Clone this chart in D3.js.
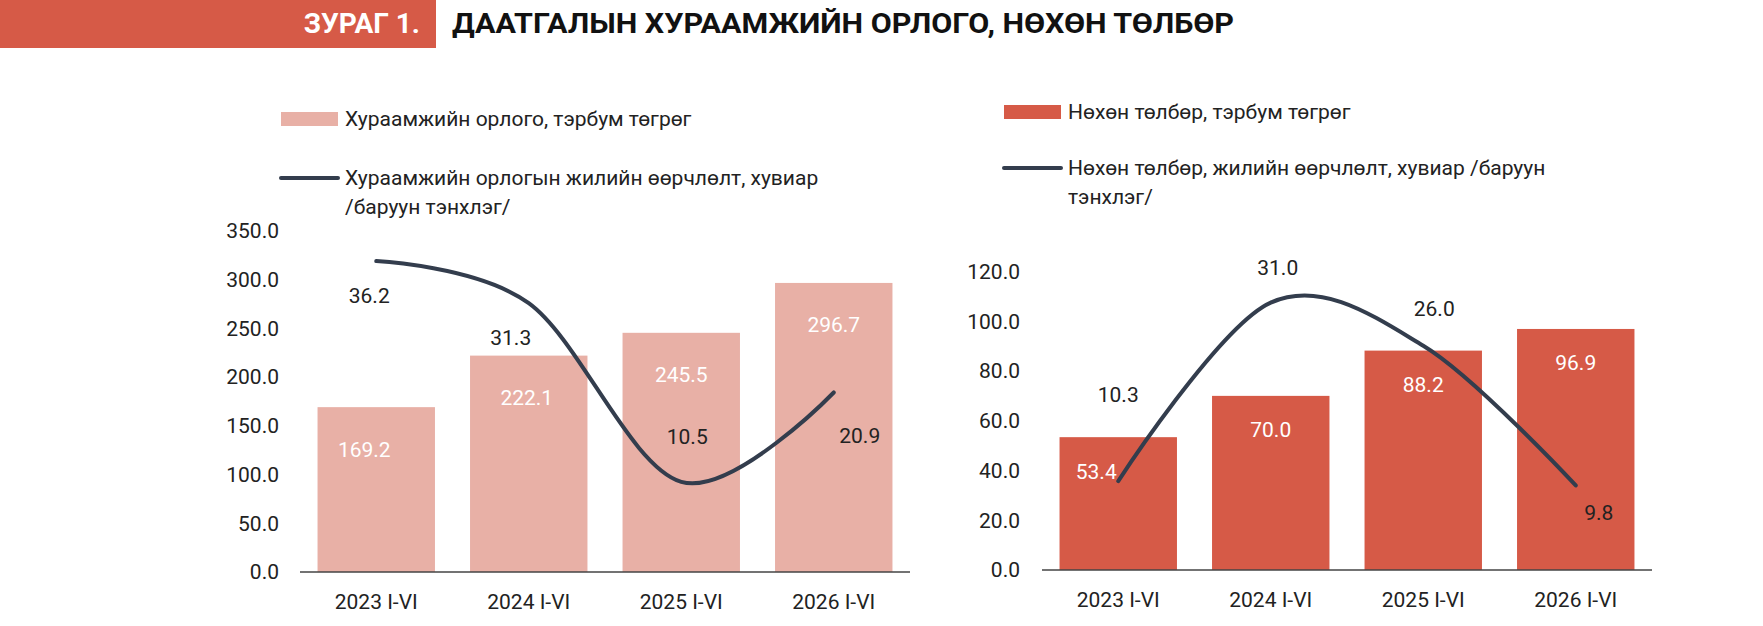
<!DOCTYPE html>
<html lang="mn">
<head>
<meta charset="UTF-8">
<script src="https://d3js.org/d3.v7.min.js"></script>
<style>
  body { margin: 0; background: #fff; }
  text { font-family: Roboto, "Noto Sans", sans-serif; }
</style>
</head>
<body>
<div id="chart"></div>
<script>
// data
const years = ["2023 I-VI", "2024 I-VI", "2025 I-VI", "2026 I-VI"];
const premiumIncome = [169.2, 222.1, 245.5, 296.7];
const premiumGrowth = [36.2, 31.3, 10.5, 20.9];
const claimsPaid = [53.4, 70.0, 88.2, 96.9];
const claimsGrowth = [10.3, 31.0, 26.0, 9.8];
const leftTicks = [0, 50, 100, 150, 200, 250, 300, 350];
const rightTicks = [0, 20, 40, 60, 80, 100, 120];

const W = 1763, H = 626;
const lineColor = "#333d4d";

const svg = d3.select("#chart").append("svg").attr("width", W).attr("height", H);

// header
svg.append("rect").attr("x", 0).attr("y", 0).attr("width", 436).attr("height", 48).attr("fill", "#d65a47");
svg.append("text").attr("x", 420).attr("y", 33).attr("text-anchor", "end")
  .attr("fill", "#fff").attr("font-size", 28).attr("font-weight", 700).text("ЗУРАГ 1.");
svg.append("text").attr("x", 452).attr("y", 33).attr("fill", "#111")
  .attr("font-size", 28).attr("font-weight", 700)
  .attr("textLength", 782).attr("lengthAdjust", "spacingAndGlyphs")
  .text("ДААТГАЛЫН ХУРААМЖИЙН ОРЛОГО, НӨХӨН ТӨЛБӨР");

function panel(o) {
  const g = svg.append("g");
  const x = d3.scaleBand().domain(years).range(o.xr).paddingInner(0.23).paddingOuter(0.115);
  const y = d3.scaleLinear().domain([0, o.yMax]).range([o.y0, o.y1]);
  const y2 = d3.scaleLinear().domain([0, o.y2Max]).range([o.y0, o.y1]);

  // legend
  g.append("rect").attr("x", o.lx).attr("y", o.ly - 7).attr("width", 57).attr("height", 14).attr("fill", o.color);
  g.append("text").attr("x", o.lx + 64).attr("y", o.ly).attr("dy", "0.35em").attr("font-size", 21).attr("fill", "#222").text(o.legBar);
  g.append("line").attr("x1", o.lx).attr("x2", o.lx + 57).attr("y1", o.ly2).attr("y2", o.ly2)
    .attr("stroke", lineColor).attr("stroke-width", 4).attr("stroke-linecap", "round");
  o.legLine.forEach((t, i) => g.append("text").attr("x", o.lx + 64).attr("y", o.ly2 + i * 29)
    .attr("dy", "0.35em").attr("font-size", 21).attr("fill", "#222").text(t));

  // y axis labels
  g.selectAll(".yt").data(o.ticks).enter().append("text")
    .attr("x", o.tx).attr("y", d => y(d)).attr("dy", "0.35em").attr("text-anchor", "end")
    .attr("font-size", 21).attr("fill", "#222").text(d => d.toFixed(1));

  // bars
  g.selectAll(".bar").data(o.bars).enter().append("rect")
    .attr("x", (d, i) => x(years[i])).attr("width", x.bandwidth())
    .attr("y", d => y(d)).attr("height", d => y(0) - y(d)).attr("fill", o.color);

  g.append("line").attr("x1", o.xr[0]).attr("x2", o.xr[1]).attr("y1", y(0)).attr("y2", y(0))
    .attr("stroke", "#444").attr("stroke-width", 1.5);

  // x labels
  g.selectAll(".xt").data(years).enter().append("text")
    .attr("x", d => x(d) + x.bandwidth() / 2).attr("y", o.y0 + 30).attr("dy", "0.35em")
    .attr("text-anchor", "middle").attr("font-size", 21).attr("fill", "#222").text(d => d);

  // bar value labels
  g.selectAll(".bv").data(o.bars).enter().append("text")
    .attr("x", (d, i) => x(years[i]) + x.bandwidth() / 2 + o.bdx[i]).attr("y", d => y(d) + o.bdy)
    .attr("dy", "0.35em").attr("text-anchor", "middle").attr("font-size", 21).attr("fill", "#fff")
    .text(d => d.toFixed(1));

  // growth line
  const line = d3.line().x((d, i) => x(years[i]) + x.bandwidth() / 2).y(d => y2(d))
    .curve(d3.curveCatmullRom.alpha(0));
  g.append("path").datum(o.line).attr("d", line).attr("fill", "none")
    .attr("stroke", lineColor).attr("stroke-width", 4).attr("stroke-linecap", "round");

  g.selectAll(".lv").data(o.line).enter().append("text")
    .attr("x", (d, i) => x(years[i]) + x.bandwidth() / 2 + o.ldx[i]).attr("y", (d, i) => y2(d) + o.ldy[i])
    .attr("dy", "0.35em").attr("text-anchor", "middle").attr("font-size", 21).attr("fill", "#222")
    .text(d => d.toFixed(1));
}

panel({
  xr: [300, 910], y0: 572, y1: 231, yMax: 350, y2Max: 39.7, ticks: leftTicks, tx: 279,
  color: "#e8b0a6", bars: premiumIncome, line: premiumGrowth,
  bdx: [-12, -2, 0, 0], bdy: 42,
  ldx: [-7, -18, 6, 26], ldy: [35, 34, -45, 43],
  lx: 281, ly: 119, ly2: 178,
  legBar: "Хураамжийн орлого, тэрбум төгрөг",
  legLine: ["Хураамжийн орлогын жилийн өөрчлөлт, хувиар", "/баруун тэнхлэг/"]
});

panel({
  xr: [1042, 1652], y0: 570, y1: 271.5, yMax: 120, y2Max: 34.6, ticks: rightTicks, tx: 1020,
  color: "#d65a47", bars: claimsPaid, line: claimsGrowth,
  bdx: [-22, 0, 0, 0], bdy: 34,
  ldx: [0, 7, 11, 23], ldy: [-86, -35, -37, 27],
  lx: 1004, ly: 112, ly2: 168,
  legBar: "Нөхөн төлбөр, тэрбум төгрөг",
  legLine: ["Нөхөн төлбөр, жилийн өөрчлөлт, хувиар /баруун", "тэнхлэг/"]
});
</script>
</body>
</html>
